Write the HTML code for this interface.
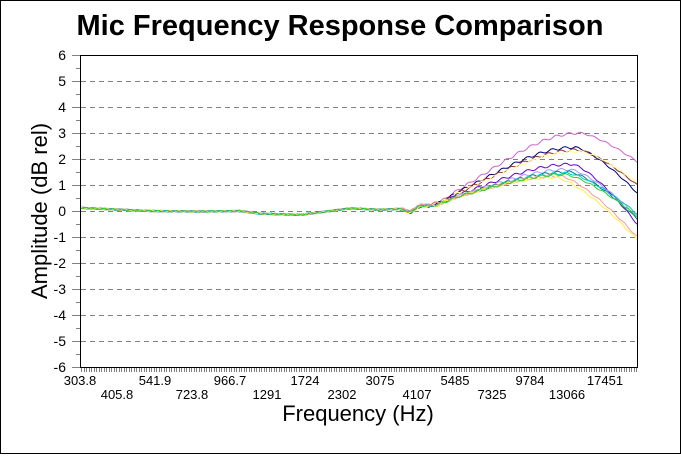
<!DOCTYPE html>
<html><head><style>
body{margin:0;background:#fff;}
</style></head><body>
<svg width="681" height="454" xmlns="http://www.w3.org/2000/svg" font-family="Liberation Sans, Arial, sans-serif">
<rect x="0.5" y="0.5" width="680" height="453" fill="#fff" stroke="#000"/>
<text x="340" y="35" text-anchor="middle" font-size="29" font-weight="bold">Mic Frequency Response Comparison</text>
<g id="grid" stroke="#808080" stroke-dasharray="5,4"></g>
<g id="yt"></g>
<g id="xt"></g>
<g id="series" fill="none" stroke-width="1"></g>
<line x1="80" y1="55.5" x2="637.5" y2="55.5" stroke="#000"/>
<line x1="637.5" y1="55" x2="637.5" y2="367" stroke="#000"/>
<line x1="80.5" y1="55" x2="80.5" y2="367" stroke="#000"/>
<line x1="80" y1="367.5" x2="638" y2="367.5" stroke="#000"/>
<text x="47" y="211" text-anchor="middle" font-size="22" transform="rotate(-90 47 211)">Amplitude (dB rel)</text>
<text x="358" y="421" text-anchor="middle" font-size="22">Frequency (Hz)</text>
<g font-size="13" text-anchor="middle">
<text x="80" y="385">303.8</text><text x="155" y="385">541.9</text><text x="230" y="385">966.7</text><text x="305" y="385">1724</text><text x="380" y="385">3075</text><text x="455" y="385">5485</text><text x="530" y="385">9784</text><text x="605" y="385">17451</text>
<text x="117" y="399">405.8</text><text x="192" y="399">723.8</text><text x="267" y="399">1291</text><text x="342" y="399">2302</text><text x="417" y="399">4107</text><text x="492" y="399">7325</text><text x="567" y="399">13066</text>
</g>
</svg>
<script>
const NS="http://www.w3.org/2000/svg";
function el(t,a,p){const e=document.createElementNS(NS,t);for(const k in a)e.setAttribute(k,a[k]);document.getElementById(p).appendChild(e);return e;}
const Y=d=>211-d*26;
for(let d=-6;d<=6;d++){
  if(d!==6&&d!==-6) el('line',{x1:81,x2:637,y1:Y(d)+.5,y2:Y(d)+.5},'grid');
  el('line',{x1:72,x2:80,y1:Y(d)+.5,y2:Y(d)+.5,stroke:'#808080'},'yt');
  if(d<6) el('line',{x1:76,x2:80,y1:Y(d)-13+.5,y2:Y(d)-13+.5,stroke:'#808080'},'yt');
  const t=el('text',{x:66,y:Y(d)+5,'font-size':14,'text-anchor':'end'},'yt');t.textContent=d;
}
for(let x=81;x<637;x+=2.5) el('line',{x1:Math.round(x)+.5,x2:Math.round(x)+.5,y1:368,y2:372,stroke:'#808080'},'xt');
function flat(x){
  const pts=[[80,0.12],[150,0.0],[200,-0.02],[240,0],[260,-0.1],[300,-0.15],[330,0],[350,0.1],[380,0.05],[400,0.08],[410,-0.05],[420,0.2],[440,0.22],[460,0.35]];
  for(let i=0;i<pts.length-1;i++){if(x<=pts[i+1][0]){const[a,b]=pts[i],[c,d]=pts[i+1];return b+(d-b)*(x-a)/(c-a);}}
  return 0.35;
}
function ss(t){t=Math.max(0,Math.min(1,t));return t*t*(3-2*t);}
const series=[
 ['#cc66cc',3.0,1.9,580],['#000080',2.45,0.7,575],['#993333',2.35,1.0,578],['#ffff99',2.3,1.1,580],
 ['#6600cc',1.8,-0.5,572],['#9999ff',1.6,-0.2,570],['#008080',1.5,-0.3,570],['#00cccc',1.45,-0.1,568],
 ['#ff9999',1.35,-1.0,560],['#ffee44',1.3,-1.1,555],['#33cc33',1.4,-0.2,565]
];
series.forEach(([c,pk,end,px],si)=>{
  let p=[];
  for(let x=81;x<=637;x+=2){
    let v=flat(x)+Math.sin(x*0.7+si)*0.03;
    if(x>430){const r=(x-430)/(px-430);const s=Math.pow(Math.max(0,Math.min(1,r)),1.3);const sh=Math.sin(s*Math.PI/2);v=flat(x)*(1-sh)+pk*sh+Math.sin(x*0.5+si*2)*0.05;}
    if(x>px){const r=(x-px)/(637-px);v=pk+(end-pk)*Math.pow(r,1.4)+Math.sin(x*0.5+si*2)*0.03;}
    if(x<440&&x>400)v+= (si%3-1)*0.04;
    p.push(x+','+Y(v).toFixed(1));
  }
  el('polyline',{points:p.join(' '),stroke:c},'series');
});
</script>
</body></html>
